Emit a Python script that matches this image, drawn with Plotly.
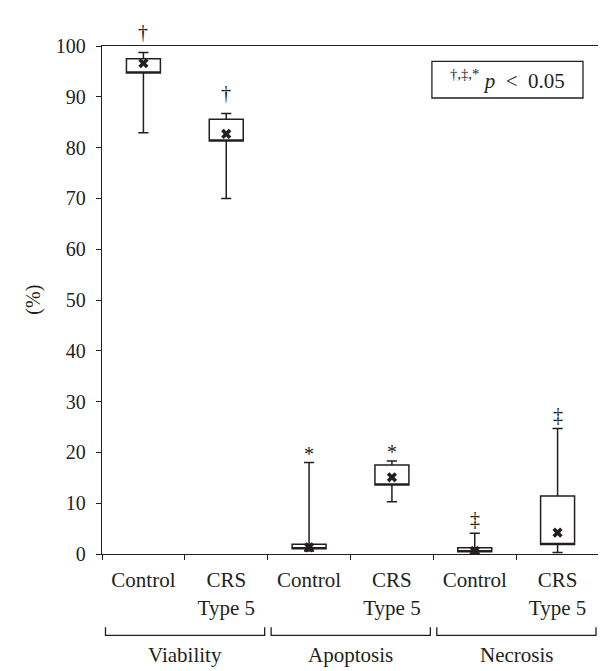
import plotly.graph_objects as go

# ---- data ----
categories = ["Control", "CRS<br>Type 5", "Control", "CRS<br>Type 5", "Control", "CRS<br>Type 5"]
groups = ["Viability", "Apoptosis", "Necrosis"]
lower_whisker = [82.9, 70.0, 0.6, 10.3, 0.1, 0.3]
q1 = [94.7, 81.3, 1.05, 13.6, 0.45, 1.85]
q3 = [97.5, 85.6, 1.9, 17.5, 1.25, 11.4]
upper_whisker = [98.7, 86.7, 18.0, 18.3, 4.1, 24.7]
means = [96.6, 82.7, 1.3, 15.1, 0.6, 4.2]
sig_marks = ["†", "†", "*", "*", "‡", "‡"]
y_ticks = [0, 10, 20, 30, 40, 50, 60, 70, 80, 90, 100]

INK = "#231f20"
FONT = "Liberation Serif"
FS = 20
FS_CAT = 21

positions = list(range(len(categories)))

fig = go.Figure()
fig.add_trace(go.Box(
    x=positions, q1=q1, median=q1, q3=q3,
    lowerfence=lower_whisker, upperfence=upper_whisker,
    width=0.41, whiskerwidth=0.3, boxpoints=False,
    fillcolor="white", line=dict(color=INK, width=1.5),
    showlegend=False, hoverinfo="skip",
))
fig.add_trace(go.Scatter(
    x=positions, y=means, mode="markers",
    marker=dict(symbol="x", size=9, color=INK, line=dict(width=0)),
    showlegend=False, hoverinfo="skip",
))

# significance marks above the upper whiskers
shift = {"†": 21, "*": 9, "‡": 14}
for xi, yi, m in zip(positions, upper_whisker, sig_marks):
    fig.add_annotation(x=xi, y=yi, xref="x", yref="y", text=m, showarrow=False,
                       xanchor="center", yanchor="middle", yshift=shift[m],
                       font=dict(family=FONT, size=FS, color=INK))

# group brackets and labels
n_groups = len(groups)
y_top, y_bot, y_lab = -0.1444, -0.1601, -0.198
for g, name in enumerate(groups):
    x0 = g / n_groups + 0.007
    x1 = (g + 1) / n_groups - 0.006
    fig.add_shape(type="path", xref="paper", yref="paper",
                  path=f"M {x0},{y_top} L {x0},{y_bot} L {x1},{y_bot} L {x1},{y_top}",
                  line=dict(color=INK, width=1.3))
    fig.add_annotation(x=(g + 0.5) / n_groups, y=y_lab, xref="paper", yref="paper",
                       text=name, showarrow=False, xanchor="center", yanchor="middle",
                       font=dict(family=FONT, size=FS_CAT, color=INK))

# legend box
fig.add_shape(type="rect", xref="paper", yref="paper",
              x0=0.6638, x1=0.9678, y0=0.8976, y1=0.9699,
              line=dict(color=INK, width=1.3), fillcolor="white", layer="below")
fig.add_annotation(x=0.8158, y=0.9337, xref="paper", yref="paper",
                   text="<sup>†,‡,*</sup>&nbsp;<i>p</i>&nbsp; &lt; &nbsp;0.05",
                   showarrow=False, xanchor="center", yanchor="middle",
                   font=dict(family=FONT, size=FS_CAT, color=INK))

# y-axis title
fig.add_annotation(x=-0.1395, y=0.5, xref="paper", yref="paper", text="(%)",
                   textangle=-90, showarrow=False, xanchor="center", yanchor="middle",
                   font=dict(family=FONT, size=FS, color=INK))

fig.update_layout(
    width=606, height=671,
    margin=dict(l=94, r=15, t=38, b=125),
    paper_bgcolor="white", plot_bgcolor="white",
    font=dict(family=FONT, size=FS, color=INK),
    xaxis=dict(
        range=[-0.5, 5.5], tickmode="array", tickvals=positions, ticktext=categories,
        ticks="", showgrid=False, zeroline=False, ticklabelstandoff=7,
        showline=True, linecolor=INK, linewidth=1.3, mirror=True,
        minor=dict(tickmode="array", tickvals=[p - 0.5 for p in positions] + [positions[-1] + 0.5],
                   ticks="outside", ticklen=5, tickwidth=1.3, tickcolor=INK, showgrid=False),
        tickfont=dict(family=FONT, size=FS_CAT, color=INK),
    ),
    yaxis=dict(
        range=[0, 100], tickmode="array", tickvals=y_ticks,
        ticks="outside", ticklen=5, tickwidth=1.3, tickcolor=INK,
        showgrid=False, zeroline=False, ticklabelstandoff=6,
        showline=True, linecolor=INK, linewidth=1.3, mirror=True,
        tickfont=dict(family=FONT, size=FS, color=INK),
    ),
)

fig.write_html("out.html")
